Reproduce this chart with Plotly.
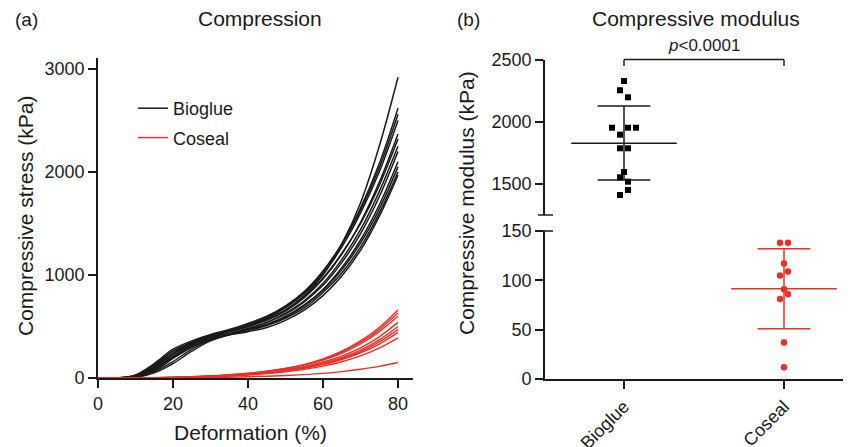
import plotly.graph_objects as go

W, H = 851, 447
OFF = 8  # page body margin of the browser
FONT = "Liberation Sans, Arial, Helvetica, sans-serif"
BLACK = "#1a1a1a"
RED = "#e8302a"

# ---------------- Panel (a) data ----------------
deformation = [0, 5, 10, 15, 20, 25, 30, 35, 40, 45, 50, 55, 60, 65, 70, 75, 80]

bioglue_curves = [
    [0, 0, 15, 90, 210, 320, 400, 450, 500, 570, 660, 800, 1000, 1300, 1700, 2250, 2920],
    [0, 0, 20, 110, 240, 340, 410, 460, 520, 590, 690, 830, 1030, 1300, 1650, 2080, 2620],
    [0, 0, 25, 120, 260, 350, 420, 470, 530, 600, 700, 840, 1040, 1300, 1630, 2040, 2560],
    [0, 0, 10, 70, 190, 300, 390, 450, 510, 580, 680, 820, 1010, 1270, 1600, 2000, 2500],
    [0, 0, 20, 100, 230, 330, 400, 450, 500, 560, 650, 780, 960, 1200, 1510, 1900, 2370],
    [0, 0, 30, 140, 280, 360, 420, 460, 510, 570, 660, 790, 970, 1210, 1500, 1870, 2320],
    [0, 0, 15, 90, 210, 310, 380, 430, 480, 540, 630, 750, 920, 1150, 1440, 1810, 2250],
    [0, 0, 10, 60, 160, 280, 370, 430, 480, 540, 620, 740, 900, 1120, 1400, 1760, 2200],
    [0, 0, 20, 110, 240, 330, 390, 430, 470, 520, 600, 710, 860, 1070, 1340, 1680, 2100],
    [0, 0, 5, 50, 140, 260, 360, 420, 470, 520, 590, 700, 850, 1050, 1310, 1640, 2050],
    [0, 0, 15, 80, 200, 300, 370, 420, 460, 510, 580, 680, 830, 1020, 1270, 1600, 2000],
    [0, 0, 25, 130, 260, 340, 390, 420, 450, 490, 560, 660, 800, 990, 1240, 1570, 1970],
]

coseal_curves = [
    [0, 0, 0, 2, 5, 10, 18, 28, 42, 62, 90, 130, 185, 260, 360, 490, 660],
    [0, 0, 0, 3, 6, 12, 20, 30, 45, 65, 92, 130, 180, 250, 345, 470, 630],
    [0, 0, 1, 3, 7, 13, 21, 32, 46, 66, 92, 128, 175, 240, 330, 450, 600],
    [0, 0, 0, 2, 5, 10, 17, 26, 39, 56, 80, 112, 155, 213, 292, 400, 540],
    [0, 0, 0, 2, 5, 10, 16, 25, 37, 53, 75, 105, 145, 198, 270, 370, 500],
    [0, 0, 0, 2, 4, 9, 15, 24, 35, 50, 71, 99, 137, 187, 255, 350, 470],
    [0, 0, 0, 2, 4, 8, 14, 22, 33, 48, 68, 95, 130, 178, 243, 330, 440],
    [0, 0, 0, 1, 3, 7, 12, 19, 29, 42, 60, 84, 115, 158, 215, 290, 390],
    [0, 0, 0, 1, 2, 3, 5, 8, 12, 17, 24, 33, 45, 62, 85, 113, 150],
]

stress_ticks = [0, 1000, 2000, 3000]
deform_ticks = [0, 20, 40, 60, 80]

# ---------------- Panel (b) data ----------------
groups = ["Bioglue", "Coseal"]
bioglue_pos = [0.0, -0.025, 0.025, -0.075, 0.025, 0.075, -0.025, -0.025, 0.025, 0.0, -0.025, 0.025, 0.025, -0.025]
bioglue_mod = [2331, 2256, 2199, 1954, 1954, 1954, 1898, 1788, 1788, 1597, 1554, 1519, 1452, 1411]
bioglue_mean, bioglue_sd_hi, bioglue_sd_lo = 1828, 2129, 1532

coseal_pos = [0.975, 1.025, 1.0, 0.975, 1.025, 1.0, 1.025, 0.975, 1.0, 1.0]
coseal_mod = [138, 138, 117, 105, 109, 91, 86, 81, 37, 12]
coseal_mean, coseal_sd_hi, coseal_sd_lo = 91.5, 132, 51

upper_ticks = [1500, 2000, 2500]
lower_ticks = [0, 50, 100, 150]
p_text = "<i>p</i>&lt;0.0001"


def px_x(p):
    return (p - OFF) / W


def px_y(p):
    return 1 - (p - OFF) / H


fig = go.Figure()

for i, c in enumerate(bioglue_curves):
    fig.add_trace(go.Scatter(
        x=deformation, y=c, mode="lines", line=dict(color=BLACK, width=1.5, shape="spline"),
        name="Bioglue", legendgroup="b", showlegend=(i == 0), xaxis="x", yaxis="y"))
for i, c in enumerate(coseal_curves):
    fig.add_trace(go.Scatter(
        x=deformation, y=c, mode="lines", line=dict(color=RED, width=1.4, shape="spline"),
        name="Coseal", legendgroup="c", showlegend=(i == 0), xaxis="x", yaxis="y"))

# Panel b upper (Bioglue)
MW, CW = 0.33, 0.165
fig.add_trace(go.Scatter(x=[-MW, MW], y=[bioglue_mean] * 2, mode="lines",
                         line=dict(color=BLACK, width=1.5), showlegend=False, xaxis="x3", yaxis="y2"))
fig.add_trace(go.Scatter(x=[0, 0], y=[bioglue_sd_lo, bioglue_sd_hi], mode="lines",
                         line=dict(color=BLACK, width=1.5), showlegend=False, xaxis="x3", yaxis="y2"))
fig.add_trace(go.Scatter(x=[-CW, CW, None, -CW, CW],
                         y=[bioglue_sd_hi, bioglue_sd_hi, None, bioglue_sd_lo, bioglue_sd_lo], mode="lines",
                         line=dict(color=BLACK, width=1.5), showlegend=False, xaxis="x3", yaxis="y2"))
fig.add_trace(go.Scatter(x=bioglue_pos, y=bioglue_mod, mode="markers",
                         marker=dict(symbol="square", size=6, color="black"),
                         showlegend=False, xaxis="x3", yaxis="y2", cliponaxis=False))

# Panel b lower (Coseal)
fig.add_trace(go.Scatter(x=[1 - MW, 1 + MW], y=[coseal_mean] * 2, mode="lines",
                         line=dict(color=RED, width=1.5), showlegend=False, xaxis="x2", yaxis="y3"))
fig.add_trace(go.Scatter(x=[1, 1], y=[coseal_sd_lo, coseal_sd_hi], mode="lines",
                         line=dict(color=RED, width=1.5), showlegend=False, xaxis="x2", yaxis="y3"))
fig.add_trace(go.Scatter(x=[1 - CW, 1 + CW, None, 1 - CW, 1 + CW],
                         y=[coseal_sd_hi, coseal_sd_hi, None, coseal_sd_lo, coseal_sd_lo], mode="lines",
                         line=dict(color=RED, width=1.5), showlegend=False, xaxis="x2", yaxis="y3"))
fig.add_trace(go.Scatter(x=coseal_pos, y=coseal_mod, mode="markers",
                         marker=dict(symbol="circle", size=6.5, color=RED),
                         showlegend=False, xaxis="x2", yaxis="y3", cliponaxis=False))

axis_common = dict(showgrid=False, zeroline=False, showline=True, linecolor=BLACK, linewidth=1.8,
                   ticks="outside", ticklen=8, tickwidth=1.5, tickcolor=BLACK, automargin=False,
                   tickfont=dict(family=FONT, size=18, color=BLACK))

XR = [-79 / 160, 1 + 67 / 160]

fig.update_layout(
    width=W, height=H,
    margin=dict(l=0, r=0, t=0, b=0, autoexpand=False),
    paper_bgcolor="white", plot_bgcolor="white",
    font=dict(family=FONT, color=BLACK),
    xaxis=dict(domain=[px_x(98), px_x(413)], range=[0, 84], tickvals=deform_ticks,
               anchor="y", **axis_common),
    yaxis=dict(domain=[px_y(378), px_y(58)], range=[0, 3107], tickvals=stress_ticks,
               anchor="x", **axis_common),
    xaxis2=dict(domain=[px_x(545), px_x(851)], range=XR, tickvals=[0, 1], ticktext=groups,
                tickangle=-45, anchor="y3", **axis_common),
    xaxis3=dict(domain=[px_x(545), px_x(851)], range=XR, visible=False, anchor="y2"),
    yaxis2=dict(domain=[px_y(215), px_y(60)], range=[1250, 2500], tickvals=upper_ticks,
                anchor="x3", **axis_common),
    yaxis3=dict(domain=[px_y(379), px_y(231)], range=[0, 150], tickvals=lower_ticks,
                anchor="x2", **axis_common),
    showlegend=True,
    legend=dict(x=px_x(133), y=px_y(90), xanchor="left", yanchor="top",
                font=dict(family=FONT, size=18, color=BLACK), bgcolor="rgba(0,0,0,0)",
                tracegroupgap=3),
)

ann_font = dict(family=FONT, size=21, color=BLACK)


def ann(text, x, y, **kw):
    d = dict(text=text, x=px_x(x), y=px_y(y), xref="paper", yref="paper", showarrow=False,
             xanchor="center", yanchor="middle", font=ann_font)
    d.update(kw)
    return d


annotations = [
    ann("(a)", 26, 19, font=dict(family=FONT, size=19, color=BLACK)),
    ann("Compression", 260, 18),
    ann("(b)", 468, 19, font=dict(family=FONT, size=19, color=BLACK)),
    ann("Compressive modulus", 696, 18),
    ann("Deformation (%)", 251, 432),
    ann("Compressive stress (kPa)", 26, 216, textangle=-90),
    ann("Compressive modulus (kPa)", 467, 203, textangle=-90),
    dict(text=p_text, x=0.5, xref="x3", y=px_y(45), yref="paper", showarrow=False,
         xanchor="center", yanchor="middle", font=dict(family=FONT, size=17, color=BLACK)),
]
fig.update_layout(annotations=annotations)

shapes = [
    # significance bracket
    dict(type="line", xref="x3", yref="paper", x0=0, x1=1, y0=px_y(59.5), y1=px_y(59.5),
         line=dict(color=BLACK, width=1.5)),
    dict(type="line", xref="x3", yref="paper", x0=0, x1=0, y0=px_y(59.5), y1=px_y(66),
         line=dict(color=BLACK, width=1.5)),
    dict(type="line", xref="x3", yref="paper", x0=1, x1=1, y0=px_y(59.5), y1=px_y(66),
         line=dict(color=BLACK, width=1.5)),
    # axis break marks
    dict(type="line", xref="paper", yref="paper", x0=px_x(538), x1=px_x(553), y0=px_y(215), y1=px_y(215),
         line=dict(color=BLACK, width=1.5)),
    dict(type="line", xref="paper", yref="paper", x0=px_x(538), x1=px_x(553), y0=px_y(231), y1=px_y(231),
         line=dict(color=BLACK, width=1.5)),
]
fig.update_layout(shapes=shapes)

fig.write_html("out.html")
